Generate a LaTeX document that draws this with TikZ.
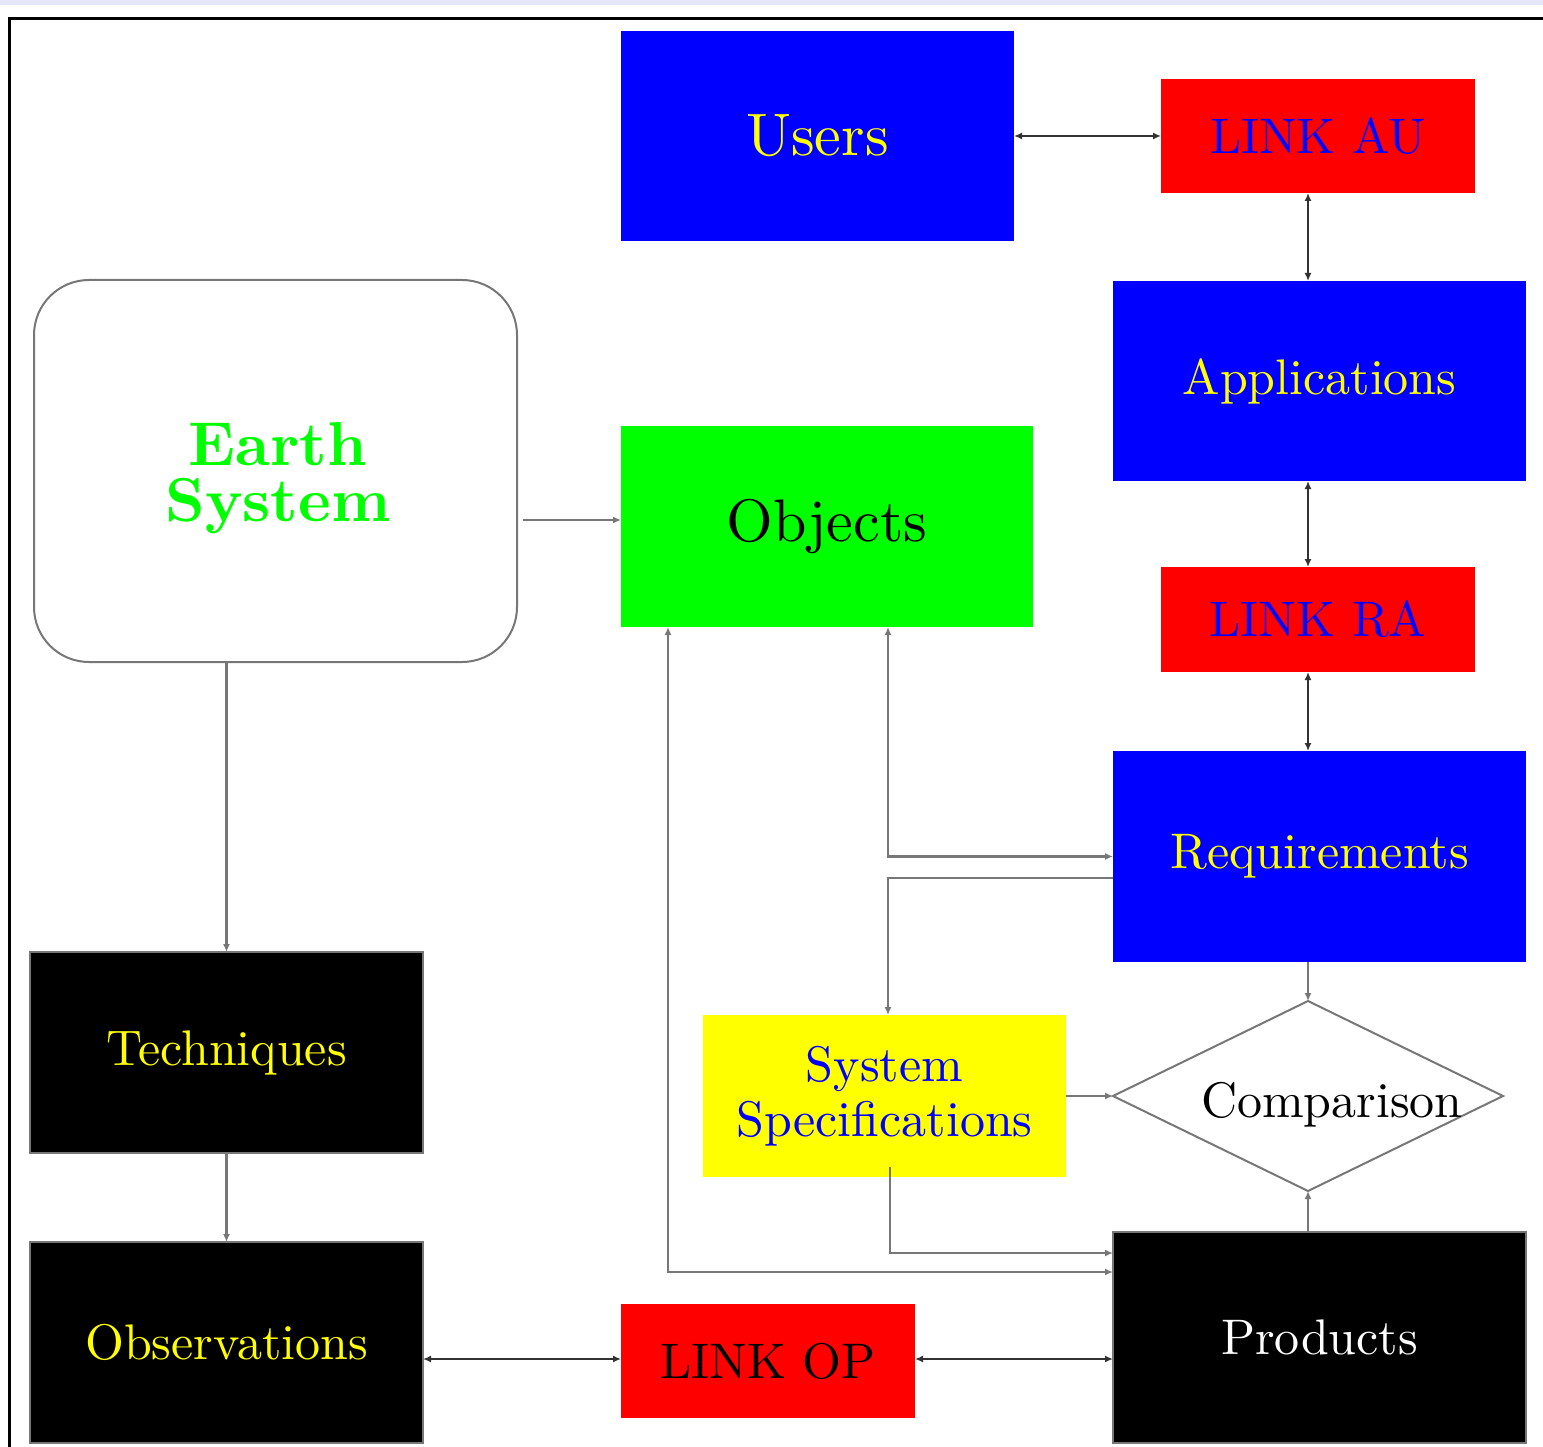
\documentclass[tikz,border=0pt]{standalone}
\usetikzlibrary{arrows.meta,shapes.geometric}
\DeclareFontFamily{TU}{lmten}{}
\DeclareFontShape{TU}{lmten}{m}{n}{<-> "[lmroman10-regular]:+tlig;"}{}
\DeclareFontShape{TU}{lmten}{b}{n}{<-> "[lmroman10-bold]:+tlig;"}{}
\DeclareFontShape{TU}{lmten}{bx}{n}{<-> "[lmroman10-bold]:+tlig;"}{}
\newcommand{\tenfont}{\fontfamily{lmten}\selectfont}
\definecolor{pureblue}{RGB}{0,0,255}
\definecolor{purered}{RGB}{255,0,0}
\definecolor{puregreen}{RGB}{0,255,0}
\definecolor{pureyellow}{RGB}{255,255,0}
\definecolor{lav}{RGB}{230,230,250}
\definecolor{linegray}{RGB}{119,119,119}
\definecolor{linedark}{RGB}{50,50,50}
\begin{document}
\begin{tikzpicture}[x=1pt,y=-1pt,
  every node/.style={inner sep=0pt, outer sep=0pt},
  box/.style n args={2}{rectangle, align=center, minimum width=#1, minimum height=#2},
  txt/.style={font=\tenfont\fontsize{50}{55}\selectfont},
  bigtxt/.style={font=\tenfont\fontsize{60}{66}\selectfont},
  bluebox/.style={fill=pureblue, text=pureyellow, txt},
  redbox/.style={fill=purered, txt},
  blackbox/.style={fill=black, draw=linegray, line width=2pt, txt},
  >={Latex[length=8pt,width=7pt]},
  flow/.style={draw=linegray, line width=2.5pt, ->},
  dflow/.style={draw=linegray, line width=2.5pt, <->},
  dlink/.style={draw=linedark, line width=2.5pt, <->}
]
\useasboundingbox (0,0) rectangle (1543,1447);
\clip (0,0) rectangle (1543,1447);
\fill[lav] (0,0) rectangle (1543,5);
\draw[line width=3.3pt] (9.5,18.4) rectangle (1600,1500);

% nodes
\node[box={393}{210}, fill=pureblue, text=pureyellow, bigtxt] (users) at (817.5,136) {Users};
\node[box={314}{114}, redbox, text=pureblue] (linkau) at (1318,136) {LINK AU};
\node[box={413}{200}, bluebox] (apps) at (1319.5,381) {Applications};
\node[box={483}{382}, draw=linegray, line width=2pt, rounded corners=55pt] (earth) at (275.5,471) {};
\node[align=center, text=puregreen, font=\tenfont\fontsize{62}{56}\selectfont\bfseries] (earthtxt) at (278,478) {Earth\\System};
\node[box={412}{201}, fill=puregreen, text=black, bigtxt] (objects) at (827,526.5) {Objects};
\node[box={314}{105}, redbox, text=pureblue] (linkra) at (1318,619.5) {LINK RA};
\node[box={413}{211}, bluebox] (req) at (1319.5,856.5) {Requirements};
\node[box={393}{201}, blackbox, text=pureyellow] (tech) at (226.5,1052.5) {Techniques};
\node[box={363}{162}, fill=pureyellow, text=pureblue, txt] (spec) at (884.5,1096) {System\\Specifications};
\node[diamond, draw=linegray, line width=2pt, minimum width=390, minimum height=190] (cmp) at (1308,1096) {};
\node[txt, text=black] (cmptxt) at (1332,1105) {Comparison};
\node[box={413}{211}, blackbox, text=white] (prod) at (1319.5,1337.5) {Products};
\node[box={393}{201}, blackbox, text=pureyellow] (obs) at (226.5,1342.5) {Observations};
\node[box={294}{114}, redbox, text=black] (linkop) at (768,1361) {LINK OP};

% helper coordinates
\coordinate (vx) at (1308,0);
\coordinate (ey) at (0,520);
\coordinate (ox) at (888,0);
\coordinate (ry) at (0,878);
\coordinate (sx) at (890,0);
\coordinate (py1) at (0,1253);
\coordinate (qx) at (668,0);
\coordinate (py2) at (0,1272);
\coordinate (ly) at (0,1359);

% connectors
\draw[dlink] (users.east) -- (linkau.west);
\draw[dlink] (linkau.south -| vx) -- (apps.north -| vx);
\draw[dlink] (apps.south -| vx) -- (linkra.north -| vx);
\draw[dlink] (linkra.south -| vx) -- (req.north -| vx);
\draw[flow] ([xshift=6pt]earth.east |- ey) -- (objects.west |- ey);
\draw[flow] (earth.south -| tech.north) -- (tech.north);
\draw[flow] (tech.south) -- (obs.north);
\draw[dflow] (objects.south -| ox) |- (req.west);
\draw[flow] (req.west |- ry) -| (spec.north -| ox);
\draw[flow] (req.south -| vx) -- (cmp.north);
\draw[flow] (spec.east |- cmp.west) -- (cmp.west);
\draw[flow] (prod.north -| vx) -- (cmp.south);
\draw[flow] ([yshift=10pt]spec.south -| sx) |- (prod.west |- py1);
\draw[dflow] (prod.west |- py2) -| (objects.south -| qx);
\draw[dlink] (obs.east |- ly) -- (linkop.west |- ly);
\draw[dlink] (linkop.east |- ly) -- (prod.west |- ly);
\end{tikzpicture}
\end{document}
